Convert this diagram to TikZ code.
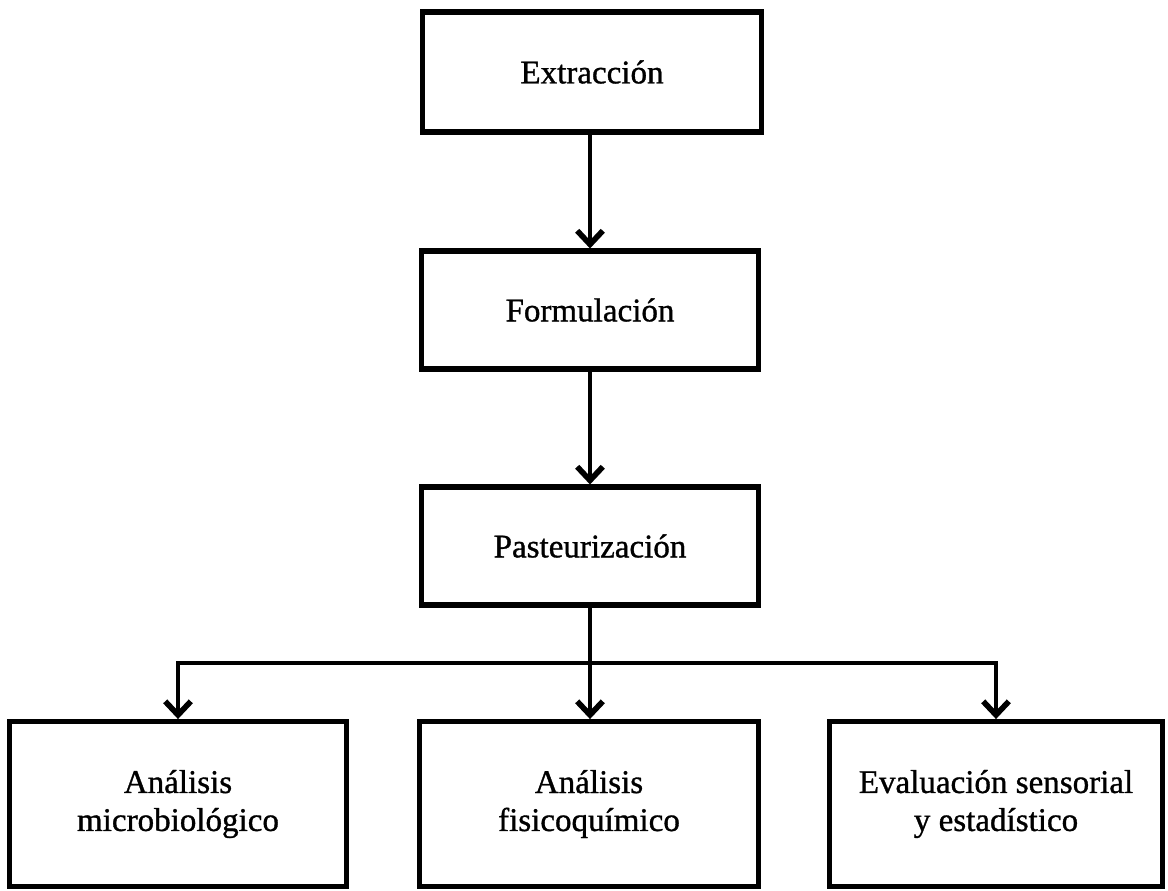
\documentclass[tikz,border=0pt]{standalone}
\usepackage{fontspec}
\setmainfont{Liberation Serif}[FakeBold=1]
\usetikzlibrary{arrows.meta}
\begin{document}
\begin{tikzpicture}[x=0.025cm,y=-0.025cm,line join=miter,
 caja/.style={draw,line width=3.6pt,align=center,inner sep=0pt,
  font=\fontsize{23.5}{27}\selectfont},
 flecha/.style={line width=3.4pt,-{Straight Barb[length=3.4mm,width=6.4mm,line width=4pt]}}]
 \useasboundingbox (0,0) rectangle (1168,890);
 % pasos del proceso
 \node[caja,minimum width=8.45cm,minimum height=3cm] (ext) at (592,72) {Extracción};
 \node[caja,minimum width=8.4cm,minimum height=2.95cm] (form) at (590,310) {Formulación};
 \node[caja,minimum width=8.4cm,minimum height=2.95cm] (past) at (590,546) {Pasteurización};
 % analisis
 \node[caja,minimum width=8.43cm,minimum height=4.12cm] (mic) at (178,804) {Análisis\\microbiológico};
 \node[caja,minimum width=8.45cm,minimum height=4.12cm] (fis) at (589,804) {Análisis\\fisicoquímico};
 \node[caja,minimum width=8.33cm,minimum height=4.12cm] (eva) at (996,804) {Evaluación sensorial\\y estadístico};
 \coordinate (rama) at (590,663);
 \draw[flecha] (ext.south -| form.north) -- (form.north);
 \draw[flecha] (form.south) -- (past.north);
 \draw[flecha] (past.south) -- (past.south |- fis.north);
 \draw[flecha] (rama) -| (mic.north);
 \draw[flecha] (rama) -| (eva.north);
\end{tikzpicture}
\end{document}
